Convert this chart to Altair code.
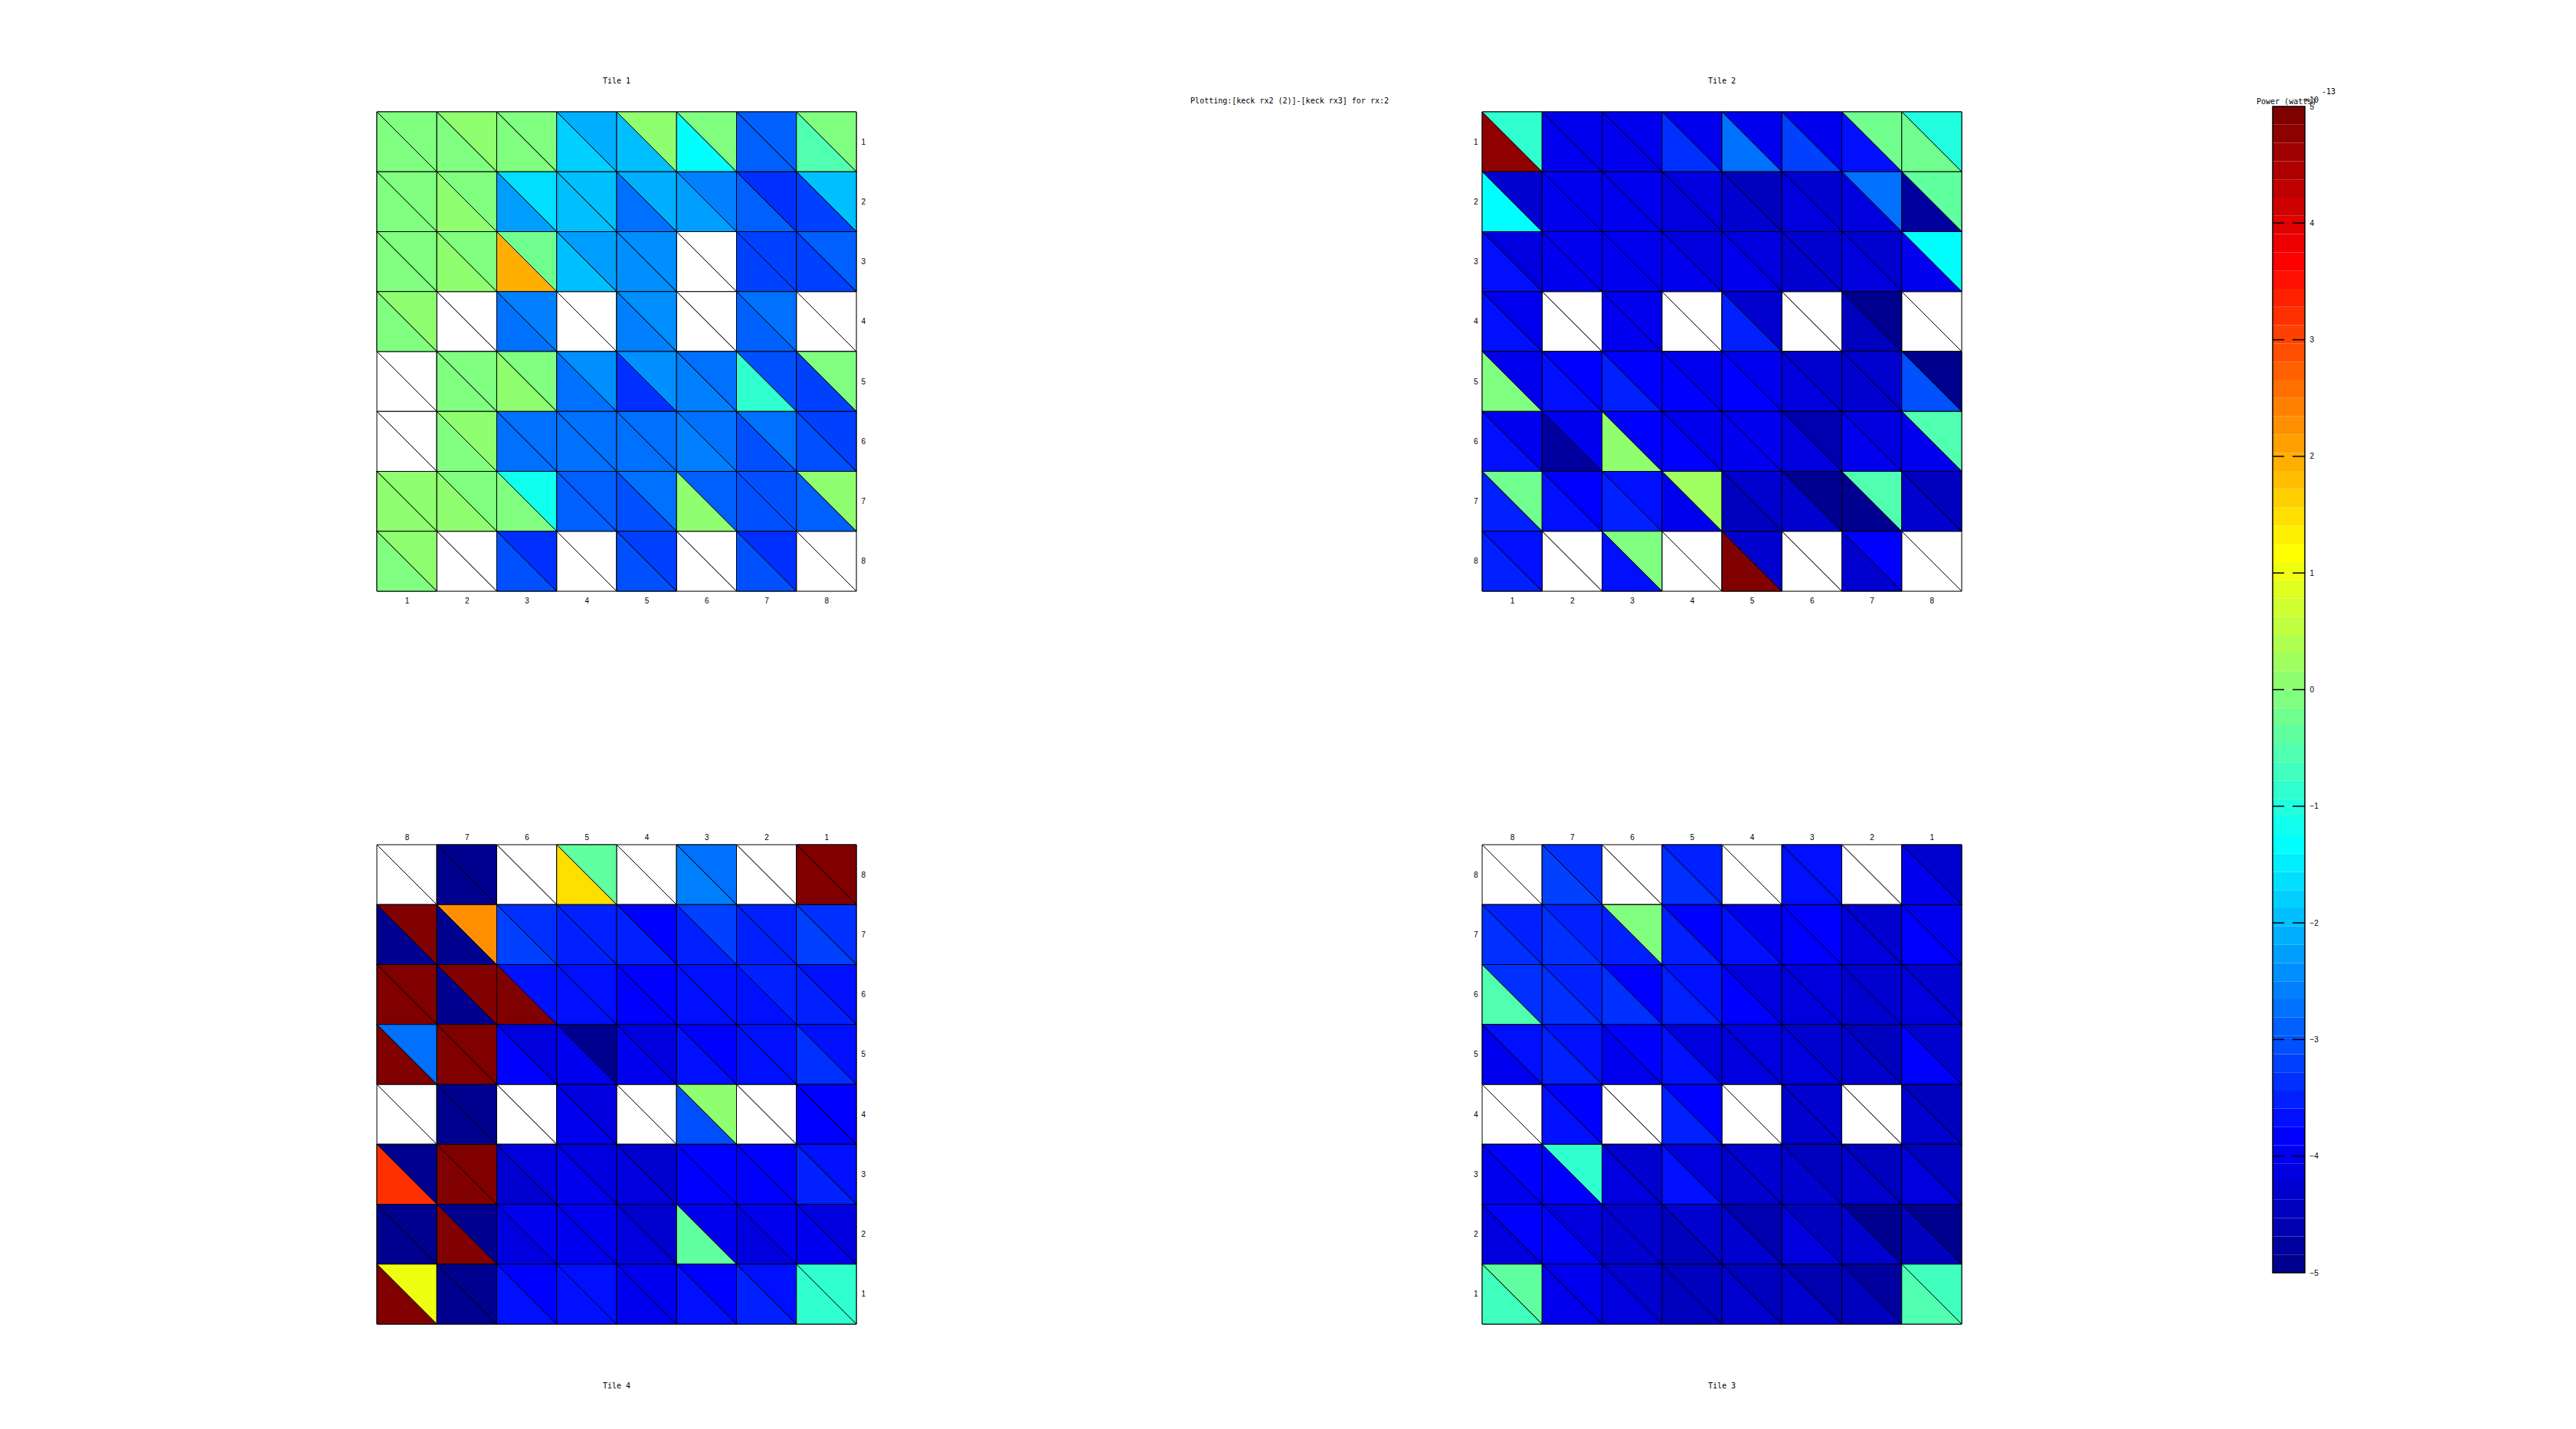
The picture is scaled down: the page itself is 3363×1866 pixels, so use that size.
import altair as alt
import pandas as pd
import numpy as np

N = None
MAIN_TITLE = "Plotting:[keck rx2 (2)]-[keck rx3] for rx:2"
CBAR_TITLE = "Power (watts)"
CBAR_EXP_BASE = "\u00d710"
CBAR_EXP = "-13"
TICKS = [1, 2, 3, 4, 5, 6, 7, 8]
CBAR_TICKS = [-5, -4, -3, -2, -1, 0, 1, 2, 3, 4, 5]
CBAR_DASHES = [-4, -3, -2, -1, 0, 1, 2, 3, 4]

# values (x 1e-13 W); rows top->bottom, cols left->right as displayed
# U = upper-right triangle, L = lower-left triangle of each cell
T1_U = [
    [-0.08, 0.08, -0.08, -2.11, 0.08, -0.08, -2.89, -0.08],
    [-0.08, -0.08, -1.64, -1.95, -2.11, -2.58, -3.36, -1.95],
    [-0.08, -0.08, -0.23, -2.27, -2.42, N, -3.20, -2.89],
    [0.08, N, -2.58, N, -2.42, N, -2.73, N],
    [N, -0.08, -0.08, -2.42, -2.42, -2.73, -3.05, -0.08],
    [N, 0.08, -2.73, -2.73, -2.73, -2.73, -2.73, -3.20],
    [0.08, -0.08, -1.17, -2.89, -2.73, -2.89, -3.05, 0.08],
    [0.08, N, -3.36, N, -3.20, N, -3.36, N],
]
T1_L = [
    [-0.08, -0.08, -0.08, -1.80, -1.95, -1.33, -2.89, -0.55],
    [-0.08, 0.08, -2.27, -1.95, -2.73, -2.27, -2.89, -3.20],
    [-0.08, 0.08, 1.95, -1.95, -2.42, N, -3.20, -3.20],
    [-0.08, N, -2.73, N, -2.58, N, -2.89, N],
    [N, -0.08, 0.08, -2.73, -3.36, -2.58, -0.86, -3.20],
    [N, -0.08, -2.73, -2.73, -2.73, -2.58, -3.05, -3.05],
    [0.08, 0.08, -0.08, -2.89, -3.05, 0.08, -3.05, -2.89],
    [-0.08, N, -3.05, N, -3.05, N, -3.05, N],
]
T2_U = [
    [-0.86, -3.98, -3.98, -3.98, -3.98, -3.98, -0.23, -1.02],
    [-4.30, -3.98, -3.98, -4.14, -4.45, -4.30, -2.73, -0.39],
    [-4.14, -3.98, -3.98, -4.14, -4.14, -4.30, -4.30, -1.33],
    [-3.98, N, -3.98, N, -4.30, N, -4.92, N],
    [-3.98, -3.83, -3.83, -3.98, -3.98, -4.30, -4.30, -4.92],
    [-3.98, -3.98, -3.83, -3.98, -3.98, -4.61, -4.14, -0.55],
    [-0.23, -3.83, -3.67, 0.23, -4.30, -4.92, -0.55, -4.45],
    [-3.67, N, -0.08, N, -4.30, N, -3.83, N],
]
T2_L = [
    [4.77, -3.98, -3.98, -3.36, -2.73, -3.20, -3.67, -0.23],
    [-1.33, -3.98, -3.98, -4.14, -4.30, -4.14, -4.14, -4.77],
    [-3.67, -3.98, -3.98, -3.98, -3.98, -4.30, -4.14, -3.98],
    [-3.67, N, -3.98, N, -3.52, N, -4.45, N],
    [-0.08, -3.67, -3.52, -3.83, -3.83, -4.14, -4.30, -3.05],
    [-3.67, -4.77, 0.08, -3.83, -3.98, -4.14, -3.98, -3.98],
    [-3.52, -3.67, -3.52, -3.98, -4.45, -4.30, -4.92, -4.30],
    [-3.52, N, -3.67, N, 4.92, N, -4.30, N],
]
T3_U = [
    [N, -3.36, N, -3.52, N, -3.67, N, -4.30],
    [-3.52, -3.52, -0.08, -3.83, -3.98, -3.83, -4.30, -3.98],
    [-3.36, -3.52, -3.83, -3.67, -4.14, -4.14, -4.30, -4.30],
    [-3.67, -3.67, -3.83, -4.14, -4.14, -4.30, -4.45, -4.30],
    [N, -3.83, N, -3.83, N, -4.30, N, -4.45],
    [-3.83, -0.86, -4.30, -4.14, -4.30, -4.45, -4.45, -4.45],
    [-3.83, -4.14, -4.30, -4.30, -4.61, -4.45, -4.92, -4.92],
    [-0.39, -3.98, -4.30, -4.45, -4.45, -4.61, -4.77, -0.70],
]
T3_L = [
    [N, -3.20, N, -3.36, N, -3.67, N, -3.98],
    [-3.36, -3.36, -3.52, -3.52, -3.67, -3.83, -4.14, -3.83],
    [-0.55, -3.36, -3.36, -3.52, -3.83, -4.14, -4.30, -4.14],
    [-3.98, -3.52, -3.98, -3.67, -4.14, -4.14, -4.30, -3.83],
    [N, -3.67, N, -3.52, N, -4.30, N, -4.30],
    [-3.98, -3.83, -4.14, -3.67, -4.30, -4.30, -4.30, -4.14],
    [-4.14, -3.83, -4.30, -4.45, -4.30, -4.14, -4.30, -4.45],
    [-0.70, -3.98, -4.14, -4.45, -4.30, -4.30, -4.45, -0.55],
]
T4_U = [
    [N, -4.92, N, -0.39, N, -2.73, N, 4.92],
    [4.92, 2.27, -3.36, -3.52, -3.83, -3.20, -3.52, -3.36],
    [4.92, 4.92, -3.67, -3.67, -3.83, -3.67, -3.52, -3.67],
    [-2.73, 4.92, -4.14, -4.92, -4.14, -3.83, -3.67, -3.67],
    [N, -4.92, N, -4.14, N, 0.08, N, -3.83],
    [-4.92, 4.92, -4.14, -4.14, -4.30, -3.83, -3.83, -3.67],
    [-4.92, -4.92, -3.98, -3.98, -4.30, -3.98, -3.98, -4.14],
    [1.02, -4.92, -3.83, -3.67, -3.98, -3.83, -3.67, -0.86],
]
T4_L = [
    [N, -4.92, N, 1.48, N, -2.58, N, 4.92],
    [-4.92, -4.92, -3.20, -3.52, -3.52, -3.52, -3.52, -3.20],
    [4.92, -4.92, 4.92, -3.67, -3.83, -3.67, -3.67, -3.52],
    [4.92, 4.92, -3.83, -3.98, -3.98, -3.67, -3.67, -3.36],
    [N, -4.92, N, -3.98, N, -3.05, N, -3.83],
    [3.20, 4.92, -4.30, -3.98, -4.14, -3.83, -3.83, -3.52],
    [-4.92, 4.92, -4.14, -3.98, -4.14, -0.39, -4.14, -3.98],
    [4.92, -4.92, -3.67, -3.67, -3.98, -3.67, -3.52, -0.86],
]

FONT = "DejaVu Sans Mono"
FS = 10
W = 626
H = 626
SIZE = (W / 8.0) ** 2
PATH_U = "M -1 -1 L 1 -1 L 1 1 Z"
PATH_L = "M -1 -1 L -1 1 L 1 1 Z"


# MATLAB-style jet(64) colour map
def jet_colors(n=64):
    out = []
    for i in range(n):
        x = (i + 1) / n
        r = min(max(1.5 - abs(4 * x - 3), 0), 1)
        g = min(max(1.5 - abs(4 * x - 2), 0), 1)
        b = min(max(1.5 - abs(4 * x - 1), 0), 1)
        out.append("#%02x%02x%02x" % (round(r * 255), round(g * 255), round(b * 255)))
    return out


JET = jet_colors(64)
COLOR_SCALE = alt.Scale(type="quantize", domain=[-5, 5], range=JET)
SHAPE_SCALE = alt.Scale(domain=["U", "L"], range=[PATH_U, PATH_L])


def tile_df(up, lo, flip):
    rows = []
    for r in range(8):
        for c in range(8):
            xl = 8 - c if flip else c + 1
            yl = 8 - r if flip else r + 1
            rows.append(dict(col=xl, row=yl, part="U", v=up[r][c]))
            rows.append(dict(col=xl, row=yl, part="L", v=lo[r][c]))
    return pd.DataFrame(rows)


def tile(up, lo, name, flip, y_left):
    df = tile_df(up, lo, flip)
    xs = alt.Scale(domain=[0.5, 8.5], nice=False, zero=False, reverse=flip)
    ys = alt.Scale(domain=[0.5, 8.5], nice=False, zero=False, reverse=not flip)
    xaxis = alt.Axis(values=TICKS, orient="top" if flip else "bottom", title=None,
                     ticks=False, domain=False, grid=False, format="d",
                     labelPadding=5 if flip else 7)
    yaxis = alt.Axis(values=TICKS, orient="left" if y_left else "right", title=None,
                     ticks=False, domain=False, grid=False, format="d", labelPadding=6)
    base = alt.Chart().mark_point(
        filled=True, opacity=1, size=SIZE, fill="white", stroke="black", strokeWidth=1
    )
    colored = alt.Chart().transform_filter("isValid(datum.v)").mark_point(
        filled=True, opacity=1, size=SIZE, stroke="black", strokeWidth=1
    ).encode(
        color=alt.Color("v:Q", scale=COLOR_SCALE, legend=None),
    )
    if flip:
        t = alt.TitleParams(name, orient="bottom", offset=74, font=FONT, fontSize=FS,
                            fontWeight="normal", color="black")
    else:
        t = alt.TitleParams(name, orient="top", offset=33, font=FONT, fontSize=FS,
                            fontWeight="normal", color="black")
    return alt.layer(base, colored, data=df).encode(
        x=alt.X("col:Q", scale=xs, axis=xaxis),
        y=alt.Y("row:Q", scale=ys, axis=yaxis),
        shape=alt.Shape("part:N", scale=SHAPE_SCALE, legend=None),
    ).properties(width=W, height=H, title=t)


t1 = tile(T1_U, T1_L, "Tile 1", False, False)
t2 = tile(T2_U, T2_L, "Tile 2", False, True)
t3 = tile(T3_U, T3_L, "Tile 3", True, True)
t4 = tile(T4_U, T4_L, "Tile 4", True, False)

# colour bar
CB_W = 42
CB_H = 1516
nb = len(JET)
edges = np.linspace(-5, 5, nb + 1)
cb_df = pd.DataFrame({"lo": edges[:-1], "hi": edges[1:], "mid": (edges[:-1] + edges[1:]) / 2})
cy = alt.Scale(domain=[-5, 5], nice=False, zero=False, range=[CB_H, -7])
cb_axis = alt.Axis(orient="right", values=CBAR_TICKS, title=None, ticks=False, domain=False,
                   grid=False, labelPadding=6, format="d")
bands = alt.Chart(cb_df).mark_rect().encode(
    y=alt.Y("lo:Q", scale=cy, axis=cb_axis),
    y2="hi:Q",
    x=alt.value(0), x2=alt.value(CB_W),
    color=alt.Color("mid:Q", scale=COLOR_SCALE, legend=None),
)
frame_df = pd.DataFrame({"lo": [-5], "hi": [5]})
frame = alt.Chart(frame_df).mark_rect(fillOpacity=0, stroke="black", strokeWidth=1.5).encode(
    y=alt.Y("lo:Q", scale=cy, axis=cb_axis), y2="hi:Q", x=alt.value(0), x2=alt.value(CB_W)
)
dash_df = pd.DataFrame({"lo": CBAR_DASHES})
dash_l = alt.Chart(dash_df).mark_rule(color="black", strokeWidth=1.5).encode(
    y=alt.Y("lo:Q", scale=cy, axis=cb_axis), x=alt.value(0), x2=alt.value(15)
)
dash_r = alt.Chart(dash_df).mark_rule(color="black", strokeWidth=1.5).encode(
    y=alt.Y("lo:Q", scale=cy, axis=cb_axis), x=alt.value(26), x2=alt.value(CB_W)
)
lab_df = pd.DataFrame({"a": [CBAR_TITLE], "b": [CBAR_EXP_BASE], "c": [CBAR_EXP]})
lab_a = alt.Chart(lab_df).mark_text(align="left", baseline="middle", font=FONT, fontSize=FS).encode(
    text="a:N", x=alt.value(-21), y=alt.value(-13))
lab_b = alt.Chart(lab_df).mark_text(align="left", baseline="middle", font=FONT, fontSize=FS).encode(
    text="b:N", x=alt.value(42), y=alt.value(-15))
lab_c = alt.Chart(lab_df).mark_text(align="left", baseline="middle", font=FONT, fontSize=FS).encode(
    text="c:N", x=alt.value(64), y=alt.value(-26))
cbar = alt.layer(bands, frame, dash_l, dash_r, lab_a, lab_b, lab_c).properties(
    width=CB_W, height=CB_H, view=alt.ViewBackground(stroke="transparent")
)

row1 = alt.hconcat(t1, t2, spacing=791)
row2 = alt.hconcat(t4, t3, spacing=791)
left = alt.vconcat(row1, row2, spacing=297)

chart = alt.hconcat(left, cbar, spacing=381).properties(
    title=alt.TitleParams(MAIN_TITLE, anchor="middle", offset=-36, dx=-86, font=FONT,
                          fontSize=FS, fontWeight="normal", color="black"),
    padding={"left": 489, "top": 100, "right": 5, "bottom": 5},
).configure_view(
    stroke="black", strokeWidth=1.5
).configure_axis(
    labelFont=FONT, labelFontSize=FS, labelColor="black"
).configure_title(
    font=FONT, fontSize=FS, fontWeight="normal", color="black"
).configure(background="white")

chart.save("out.html", embed_options={"renderer": "svg", "actions": False})
